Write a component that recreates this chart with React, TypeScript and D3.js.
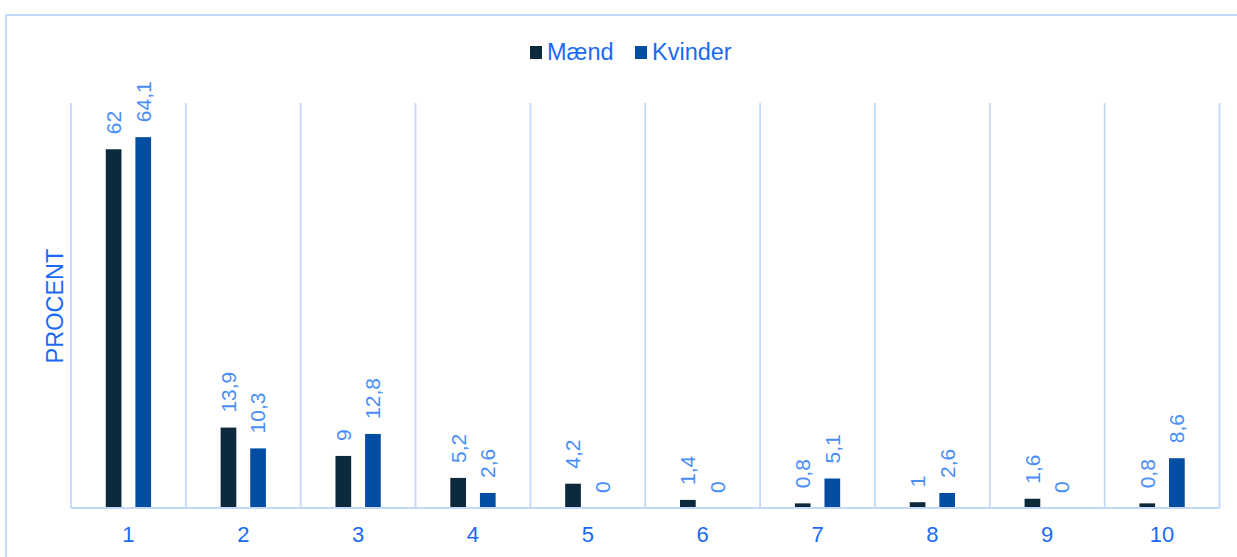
import React from "react";
import * as d3 from "d3";

const categories = ["1", "2", "3", "4", "5", "6", "7", "8", "9", "10"];
const seriesNames = ["Mænd", "Kvinder"];
const maend = [62, 13.9, 9, 5.2, 4.2, 1.4, 0.8, 1, 1.6, 0.8];
const kvinder = [64.1, 10.3, 12.8, 2.6, 0, 0, 5.1, 2.6, 0, 8.6];
const seriesColors = ["#0c2a3c", "#034ea2"];

const W = 1237;
const H = 557;
const plot = { left: 71, right: 1219.5, top: 103, bottom: 508 };

const fmt = (v: number) => String(v).replace(".", ",");

export default function App() {
  const x = d3.scaleBand<string>().domain(categories).range([plot.left, plot.right]).padding(0);
  const y = d3.scaleLinear().domain([0, 70]).range([plot.bottom, plot.top]);
  const groupW = 45.3;
  const sub = d3.scaleBand<string>().domain(seriesNames).range([-groupW / 2, groupW / 2]).paddingInner(0.47).paddingOuter(0);
  const values = [maend, kvinder];
  const font = "'Liberation Sans', Arial, sans-serif";
  const gridColor = "#c3d9fb";

  const gridXs = [...categories.map((c) => x(c)!), plot.right];

  return (
    <svg width={W} height={H} style={{ position: "absolute", left: 0, top: 0, background: "#fff" }} fontFamily={font}>
      <rect x={6} y={15} width={1260} height={600} fill="#fff" stroke={gridColor} strokeWidth={2} />
      {gridXs.map((gx, i) => (
        <line key={i} x1={gx} x2={gx} y1={plot.top} y2={plot.bottom} stroke={gridColor} strokeWidth={1.8} />
      ))}
      {values.map((vals, si) =>
        categories.map((c, ci) => {
          const cx = x(c)! + x.bandwidth() / 2;
          const bx = cx + sub(seriesNames[si])!;
          const v = vals[ci];
          const yTop = y(v);
          return (
            <g key={`${si}-${ci}`}>
              {v > 0 && (
                <rect x={bx} y={yTop} width={sub.bandwidth()} height={plot.bottom - yTop} fill={seriesColors[si]} />
              )}
              <text
                transform={`translate(${bx + sub.bandwidth() / 2},${yTop - 15}) rotate(-90)`}
                textAnchor="start"
                dy="0.35em"
                fontSize={21}
                fill="#4a8ef7"
              >
                {fmt(v)}
              </text>
            </g>
          );
        })
      )}
      <line x1={plot.left} x2={plot.right} y1={plot.bottom} y2={plot.bottom} stroke={gridColor} strokeWidth={2} />
      {categories.map((c) => (
        <text key={c} x={x(c)! + x.bandwidth() / 2} y={542} textAnchor="middle" fontSize={22} fill="#1a6af5">
          {c}
        </text>
      ))}
      <text transform={`translate(63,306) rotate(-90)`} textAnchor="middle" fontSize={23.5} fill="#1a6af5">
        PROCENT
      </text>
      {seriesNames.map((s, i) => {
        const lx = [530, 635][i];
        return (
          <g key={s}>
            <rect x={lx} y={46} width={12} height={13} fill={seriesColors[i]} />
            <text x={lx + 17} y={59.5} fontSize={23.5} fill="#1a6af5">
              {s}
            </text>
          </g>
        );
      })}
    </svg>
  );
}
